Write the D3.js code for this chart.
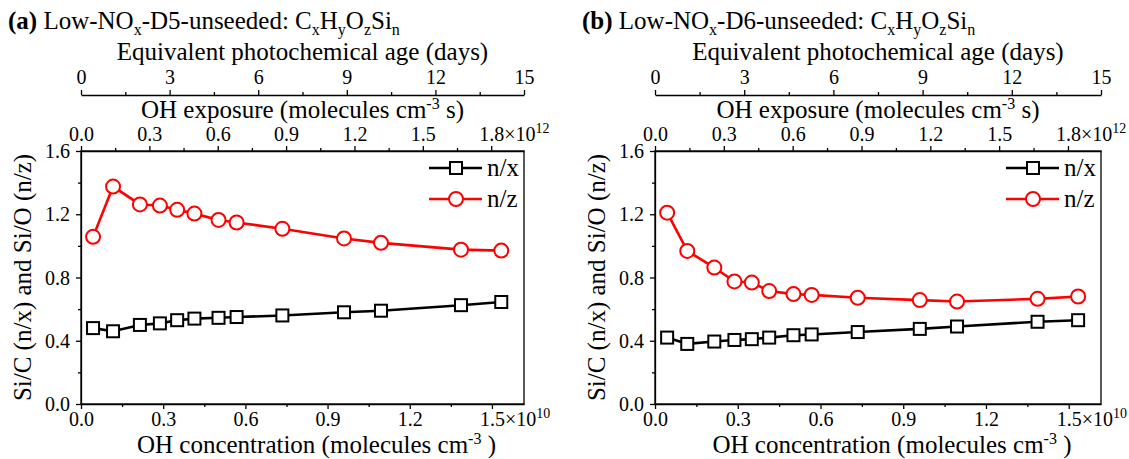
<!DOCTYPE html>
<html>
<head>
<meta charset="utf-8">
<script src="https://cdn.jsdelivr.net/npm/d3@7"></script>
<style>
body { margin: 0; background: #fff; }
svg text { font-family: "Liberation Serif", "Times New Roman", "DejaVu Serif", serif; fill: #000; }
</style>
</head>
<body>
<svg id="vis"></svg>
<script>
//OH concentration of each point (x 1e10 molecules cm-3), same for both runs
var ohConc = [0.044, 0.117, 0.215, 0.288, 0.351, 0.414, 0.502, 0.568, 0.735, 0.96, 1.095, 1.387, 1.534];

//Si/C (n/x) and Si/O (n/z)
var d5SiC = [0.48, 0.46, 0.50, 0.51, 0.53, 0.54, 0.545, 0.55, 0.56, 0.58, 0.59, 0.625, 0.645];
var d5SiO = [1.057, 1.375, 1.262, 1.255, 1.228, 1.204, 1.164, 1.148, 1.108, 1.047, 1.019, 0.976, 0.970];
var d6SiC = [0.42, 0.38, 0.395, 0.405, 0.41, 0.42, 0.435, 0.44, 0.455, 0.475, 0.49, 0.52, 0.53];
var d6SiO = [1.21, 0.968, 0.863, 0.775, 0.768, 0.714, 0.695, 0.690, 0.672, 0.657, 0.648, 0.665, 0.680];

var seriesNames = ["n/x", "n/z"];

//tick values
var yTicks = [0, 0.4, 0.8, 1.2, 1.6];
var concTicks = [0, 0.3, 0.6, 0.9, 1.2, 1.5];
var exposureTicks = [0, 0.3, 0.6, 0.9, 1.2, 1.5, 1.8];
var ageTicks = [0, 3, 6, 9, 12, 15];

//axis ranges
var concMax = 1.617;
var exposureMax = 1.944;
var ageMax = 15;
var yMax = 1.6;

var width = 1129;
var height = 459;
var plotTop = 151;
var plotBottom = 404;
var ageLineY = 95;
var tickFont = 20;
var titleFont = 25;
var serif = "'Liberation Serif', 'Times New Roman', 'DejaVu Serif', serif";

var panels = [
    {tag: "(a)", compound: "D5", left: 81, right: 524, siC: d5SiC, siO: d5SiO},
    {tag: "(b)", compound: "D6", left: 655, right: 1101, siC: d6SiC, siO: d6SiO}
];

const svg = d3.select("#vis").attr("width", width).attr("height", height)
    .attr("font-family", serif);

panels.forEach(drawPanel);

function drawPanel(p) {
    var g = svg.append("g");
    var mid = (p.left + p.right) / 2;

    var x = d3.scaleLinear().domain([0, concMax]).range([p.left, p.right]);
    var xExp = d3.scaleLinear().domain([0, exposureMax]).range([p.left, p.right]);
    var xAge = d3.scaleLinear().domain([0, ageMax]).range([p.left, p.right]);
    var y = d3.scaleLinear().domain([0, yMax]).range([plotBottom, plotTop]);

    //minor ticks first
    minorAxis(g, d3.axisBottom(x).tickValues(d3.range(0.15, concMax, 0.3)), "translate(0," + plotBottom + ")");
    minorAxis(g, d3.axisTop(xExp).tickValues(d3.range(0.15, exposureMax, 0.3)), "translate(0," + plotTop + ")");
    minorAxis(g, d3.axisTop(xAge).tickValues(d3.range(1.5, ageMax, 3)), "translate(0," + ageLineY + ")");
    minorAxis(g, d3.axisLeft(y).tickValues([0.2, 0.6, 1.0, 1.4]), "translate(" + p.left + ",0)");

    //bottom axis: OH concentration
    var bottom = g.append("g").attr("transform", "translate(0," + plotBottom + ")")
        .call(d3.axisBottom(x).tickValues(concTicks).tickSize(5).tickSizeOuter(0).tickFormat(d3.format(".1f")));
    styleAxis(bottom);
    bottom.selectAll("text").attr("y", 22).attr("dy", null);
    addPower(bottom, 1.5, "10");

    //top axis: OH exposure
    var top = g.append("g").attr("transform", "translate(0," + plotTop + ")")
        .call(d3.axisTop(xExp).tickValues(exposureTicks).tickSize(5).tickSizeOuter(0).tickFormat(d3.format(".1f")));
    styleAxis(top);
    top.selectAll("text").attr("y", -10);
    addPower(top, 1.8, "12");

    //age axis floating above
    var age = g.append("g").attr("transform", "translate(0," + ageLineY + ")")
        .call(d3.axisTop(xAge).tickValues(ageTicks).tickSize(5).tickSizeOuter(0).tickFormat(d3.format("d")));
    styleAxis(age);
    age.selectAll("text").attr("y", -11);

    //left axis
    var left = g.append("g").attr("transform", "translate(" + p.left + ",0)")
        .call(d3.axisLeft(y).tickValues(yTicks).tickSize(5).tickSizeOuter(0).tickFormat(d3.format(".1f")));
    styleAxis(left);
    left.selectAll("text").attr("x", -11).attr("dy", "0.33em");

    //frame
    g.append("rect")
        .attr("x", p.left).attr("y", plotTop)
        .attr("width", p.right - p.left).attr("height", plotBottom - plotTop)
        .attr("fill", "none").attr("stroke", "#000").attr("stroke-width", 1.3);

    //titles
    richText(g.append("text").attr("x", p.left - 73).attr("y", 29).attr("font-size", titleFont),
        [[p.tag, "b"], [" Low-NO", ""], ["x", "sub"], ["-" + p.compound + "-unseeded: C", ""],
         ["x", "sub"], ["H", ""], ["y", "sub"], ["O", ""], ["z", "sub"], ["Si", ""], ["n", "sub"]]);

    g.append("text").attr("x", mid).attr("y", 60).attr("text-anchor", "middle")
        .attr("font-size", titleFont).text("Equivalent photochemical age (days)");

    richText(g.append("text").attr("x", mid).attr("y", 118).attr("text-anchor", "middle").attr("font-size", titleFont),
        [["OH exposure (molecules cm", ""], ["-3", "sup"], [" s)", ""]]);

    richText(g.append("text").attr("x", mid + 14).attr("y", 453).attr("text-anchor", "middle").attr("font-size", titleFont),
        [["OH concentration (molecules cm", ""], ["-3", "sup"], [" )", ""]]);

    g.append("text")
        .attr("transform", "translate(" + (p.left - 50) + "," + ((plotTop + plotBottom) / 2) + ") rotate(-90)")
        .attr("text-anchor", "middle").attr("font-size", titleFont)
        .text("Si/C (n/x) and Si/O (n/z)");

    //data
    var line = d3.line().x(function(d, i) { return x(ohConc[i]); }).y(function(d) { return y(d); });

    g.append("path").datum(p.siO).attr("d", line)
        .attr("fill", "none").attr("stroke", "#f00").attr("stroke-width", 2.6);
    g.append("path").datum(p.siC).attr("d", line)
        .attr("fill", "none").attr("stroke", "#000").attr("stroke-width", 2.6);

    g.append("g").selectAll("circle")
        .data(p.siO)
        .enter()
        .append("circle")
        .attr("cx", function(d, i) { return x(ohConc[i]); })
        .attr("cy", function(d) { return y(d); })
        .attr("r", 7)
        .attr("fill", "#fff").attr("stroke", "#f00").attr("stroke-width", 2);

    g.append("g").selectAll("rect")
        .data(p.siC)
        .enter()
        .append("rect")
        .attr("x", function(d, i) { return x(ohConc[i]) - 6; })
        .attr("y", function(d) { return y(d) - 6; })
        .attr("width", 12).attr("height", 12)
        .attr("fill", "#fff").attr("stroke", "#000").attr("stroke-width", 2);

    //legend
    var legend = g.append("g").attr("transform", "translate(" + p.right + ",0)");
    seriesNames.forEach(function(name, i) {
        var ly = 168 + i * 31;
        var color = i == 0 ? "#000" : "#f00";
        legend.append("line").attr("x1", -95).attr("x2", -42).attr("y1", ly).attr("y2", ly)
            .attr("stroke", color).attr("stroke-width", 2.6);
        if (i == 0) {
            legend.append("rect").attr("x", -74).attr("y", ly - 6).attr("width", 12).attr("height", 12)
                .attr("fill", "#fff").attr("stroke", "#000").attr("stroke-width", 2);
        } else {
            legend.append("circle").attr("cx", -68).attr("cy", ly).attr("r", 7)
                .attr("fill", "#fff").attr("stroke", "#f00").attr("stroke-width", 2);
        }
        legend.append("text").attr("x", -37).attr("y", ly + 8).attr("font-size", titleFont).text(name);
    });
}

function minorAxis(g, axis, transform) {
    var a = g.append("g").attr("transform", transform).call(axis.tickSize(3).tickFormat(""));
    a.select(".domain").remove();
    a.selectAll(".tick line").attr("stroke-width", 1.3);
}

function styleAxis(a) {
    a.attr("font-family", serif).attr("font-size", tickFont);
    a.select(".domain").attr("stroke-width", 1.3);
    a.selectAll(".tick line").attr("stroke-width", 1.3);
    a.selectAll("text").attr("fill", "#000");
}

//tick label like 1.8x10^12, number stays centred on the tick
function addPower(a, value, power) {
    a.selectAll(".tick").filter(function(d) { return Math.abs(d - value) < 1e-9; })
        .select("text")
        .each(function() {
            var t = d3.select(this);
            var w = this.getComputedTextLength();
            t.attr("text-anchor", "start").attr("x", -w / 2);
            t.append("tspan").text("\u00d710");
            t.append("tspan").attr("dy", -8).attr("font-size", 14).text(power);
        });
}

function richText(sel, parts) {
    var shift = 0;
    parts.forEach(function(pt) {
        var target = pt[1] == "sub" ? 6 : (pt[1] == "sup" ? -9 : 0);
        var t = sel.append("tspan").attr("dy", target - shift).text(pt[0]);
        shift = target;
        if (pt[1] == "sub" || pt[1] == "sup") t.attr("font-size", 16);
        if (pt[1] == "b") t.attr("font-weight", "bold");
    });
}
</script>
</body>
</html>
